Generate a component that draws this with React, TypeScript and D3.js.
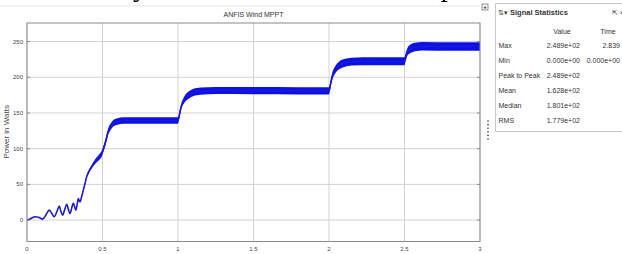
import { useEffect, useRef } from 'react';
import * as d3 from 'd3';

// simulation time (s), mean power (W), ripple half-width (W)
const TIME = [
  0, 0.02, 0.053, 0.08, 0.104, 0.125, 0.148, 0.165, 0.18, 0.198, 0.214, 0.225, 0.236, 0.25, 0.263, 0.275,
  0.285, 0.296, 0.307, 0.316, 0.324, 0.332, 0.34, 0.346, 0.351, 0.362, 0.373, 0.385, 0.395, 0.41, 0.428,
  0.445, 0.46, 0.478, 0.495, 0.505, 0.517, 0.528, 0.538, 0.555, 0.572, 0.6, 0.638, 0.7, 0.8, 0.9, 1.0,
  1.01, 1.02, 1.04, 1.07, 1.1, 1.15, 1.25, 1.5, 1.8, 2.0,
  2.01, 2.02, 2.04, 2.07, 2.1, 2.15, 2.3, 2.5,
  2.51, 2.52, 2.54, 2.57, 2.62, 2.8, 3.0,
];
const POWER = [
  0, 1.5, 4.6, 3.5, 1.3, 7, 14, 9, 4.7, 12, 19.6, 12, 7, 15, 22, 14,
  9.3, 17, 24, 18, 14, 22, 30, 27, 25.6, 33, 42, 52, 60.7, 68, 74.7,
  80, 84, 88, 93, 99, 107, 116, 124, 131, 135.5, 138, 139.5, 139.5, 139.5, 139.5, 139.5,
  148, 158, 168, 175, 178.5, 180.5, 181.5, 181.2, 181, 181,
  190, 200, 210, 217, 220, 222, 222.5, 222.5,
  230, 236, 240, 242.5, 243.5, 243, 243,
];
const RIPPLE = [
  0, 0, 0, 0, 0, 0, 0, 0, 0, 0, 0, 0, 0, 0, 0, 0,
  0, 0, 0, 0, 0, 0, 0, 0, 0, 0, 0.5, 1, 1.5, 2, 2.5,
  3, 3.5, 4, 4, 4, 4, 4.5, 4.5, 4.5, 4.6, 4.6, 4.6, 4.6, 4.6, 4.6, 4.6,
  4, 4, 4.5, 5, 5, 5, 5, 5, 5, 5,
  5, 5, 5, 5.5, 5.5, 5.5, 5.5, 5.5,
  5.5, 5.5, 6, 6, 6, 6, 6,
];

const X_TICKS = [0, 0.5, 1, 1.5, 2, 2.5, 3];
const Y_TICKS = [0, 50, 100, 150, 200, 250];

const STAT_ROWS = ['Max', 'Min', 'Peak to Peak', 'Mean', 'Median', 'RMS'];
const STAT_VALUES = ['2.489e+02', '0.000e+00', '2.489e+02', '1.628e+02', '1.801e+02', '1.779e+02'];
const STAT_TIMES = ['2.839', '0.000e+00', '', '', '', ''];

const W = 622;
const H = 254;
const FONT = 'Arial, "Liberation Sans", sans-serif';

export default function App() {
  const svgRef = useRef<SVGSVGElement>(null);

  useEffect(() => {
    if (!svgRef.current) return;
    document.body.style.margin = '0';
    const svg = d3.select(svgRef.current);
    svg.selectAll('*').remove();

    const x = d3.scaleLinear().domain([0, 3]).range([27, 480]);
    const y = d3.scaleLinear().domain([-30, 276]).range([241.5, 23]);

    svg.append('rect').attr('width', W).attr('height', H).attr('fill', '#fff');

    // clipped caption line from the page above
    svg.append('text')
      .attr('x', 122).attr('y', -4)
      .attr('font-family', '"Liberation Serif", "Times New Roman", serif')
      .attr('font-size', 28)
      .attr('fill', '#000')
      .text('system under various wind speed');
    svg.append('line')
      .attr('x1', 0).attr('x2', 480).attr('y1', 6).attr('y2', 6)
      .attr('stroke', '#e4e4e4');

    // title
    svg.append('text')
      .attr('x', (x(0) + x(3)) / 2).attr('y', 17)
      .attr('text-anchor', 'middle')
      .attr('font-family', FONT).attr('font-size', 7)
      .attr('fill', '#333')
      .text('ANFIS Wind MPPT');

    const [x0, x1] = x.range();
    const [yb, yt] = y.range();

    // grid
    const grid = svg.append('g').attr('stroke', '#d2d2d2').attr('stroke-width', 1);
    X_TICKS.forEach((t) => {
      grid.append('line').attr('x1', x(t)).attr('x2', x(t)).attr('y1', yt).attr('y2', yb);
    });
    Y_TICKS.forEach((t) => {
      grid.append('line').attr('x1', x0).attr('x2', x1).attr('y1', y(t)).attr('y2', y(t));
    });

    // signal band + line
    const idx = d3.range(TIME.length);
    const band = d3.area<number>()
      .x((i) => x(TIME[i]))
      .y0((i) => y(POWER[i] - RIPPLE[i]))
      .y1((i) => y(POWER[i] + RIPPLE[i]))
      .curve(d3.curveMonotoneX);
    svg.append('path')
      .attr('d', band(idx) || '')
      .attr('fill', '#0c10e8');
    const line = d3.line<number>()
      .x((i) => x(TIME[i]))
      .y((i) => y(POWER[i]))
      .curve(d3.curveMonotoneX);
    svg.append('path')
      .attr('d', line(idx) || '')
      .attr('fill', 'none')
      .attr('stroke', '#1a1ad0')
      .attr('stroke-width', 1.6);

    // frame
    svg.append('rect')
      .attr('x', x0).attr('y', yt)
      .attr('width', x1 - x0).attr('height', yb - yt)
      .attr('fill', 'none').attr('stroke', '#8a8a8a');

    // inward ticks
    const ticks = svg.append('g').attr('stroke', '#8a8a8a');
    Y_TICKS.forEach((t) => {
      ticks.append('line').attr('x1', x1 - 3).attr('x2', x1).attr('y1', y(t)).attr('y2', y(t));
      ticks.append('line').attr('x1', x0).attr('x2', x0 + 3).attr('y1', y(t)).attr('y2', y(t));
    });

    // tick labels
    const lab = svg.append('g')
      .attr('font-family', FONT).attr('font-size', 6).attr('fill', '#444');
    Y_TICKS.forEach((t) => {
      lab.append('text')
        .attr('x', x0 - 4).attr('y', y(t))
        .attr('text-anchor', 'end').attr('dominant-baseline', 'central')
        .text(String(t));
    });
    X_TICKS.forEach((t) => {
      lab.append('text')
        .attr('x', x(t)).attr('y', yb + 9)
        .attr('text-anchor', 'middle')
        .text(String(t));
    });

    svg.append('text')
      .attr('transform', `translate(9,${(y(0) + y(250)) / 2 + 1}) rotate(-90)`)
      .attr('text-anchor', 'middle')
      .attr('font-family', FONT).attr('font-size', 8)
      .attr('fill', '#444')
      .text('Power in Watts');

    // expand button
    svg.append('rect')
      .attr('x', 482).attr('y', 4).attr('width', 6).attr('height', 6)
      .attr('fill', '#f4f4f4').attr('stroke', '#666').attr('stroke-width', 0.7);
    svg.append('text')
      .attr('x', 485).attr('y', 9.3).attr('text-anchor', 'middle')
      .attr('font-family', FONT).attr('font-size', 6).attr('font-weight', 'bold').attr('fill', '#333')
      .text('+');

    // dotted splitter handle
    d3.range(6).forEach((k) => {
      svg.append('circle')
        .attr('cx', 488).attr('cy', 121 + k * 3.6).attr('r', 0.8).attr('fill', '#333');
    });

    // Signal Statistics panel
    const panel = svg.append('g').attr('font-family', FONT).attr('fill', '#333');
    panel.append('rect')
      .attr('x', 495.5).attr('y', 3.5).attr('width', 130).attr('height', 128)
      .attr('fill', '#fff').attr('stroke', '#c8c8c8');
    panel.append('text')
      .attr('x', 498).attr('y', 15).attr('font-size', 6.5)
      .text('⇅▾');
    panel.append('text')
      .attr('x', 510).attr('y', 15).attr('font-size', 7.5).attr('font-weight', 'bold')
      .text('Signal Statistics');
    panel.append('text')
      .attr('x', 612).attr('y', 15).attr('font-size', 6.5)
      .text('⇱ ×');

    panel.append('text')
      .attr('x', 562).attr('y', 34).attr('text-anchor', 'middle').attr('font-size', 7)
      .text('Value');
    panel.append('text')
      .attr('x', 608).attr('y', 34).attr('text-anchor', 'middle').attr('font-size', 7)
      .text('Time');

    STAT_ROWS.forEach((name, i) => {
      const ry = 48 + i * 14.9;
      panel.append('text').attr('x', 498.5).attr('y', ry).attr('font-size', 7).text(name);
      panel.append('text').attr('x', 580).attr('y', ry).attr('text-anchor', 'end').attr('font-size', 7)
        .text(STAT_VALUES[i]);
      if (STAT_TIMES[i]) {
        panel.append('text').attr('x', 620).attr('y', ry).attr('text-anchor', 'end').attr('font-size', 7)
          .text(STAT_TIMES[i]);
      }
    });
  }, []);

  return (
    <svg
      ref={svgRef}
      width={W}
      height={H}
      style={{ position: 'fixed', top: 0, left: 0, display: 'block' }}
    />
  );
}
